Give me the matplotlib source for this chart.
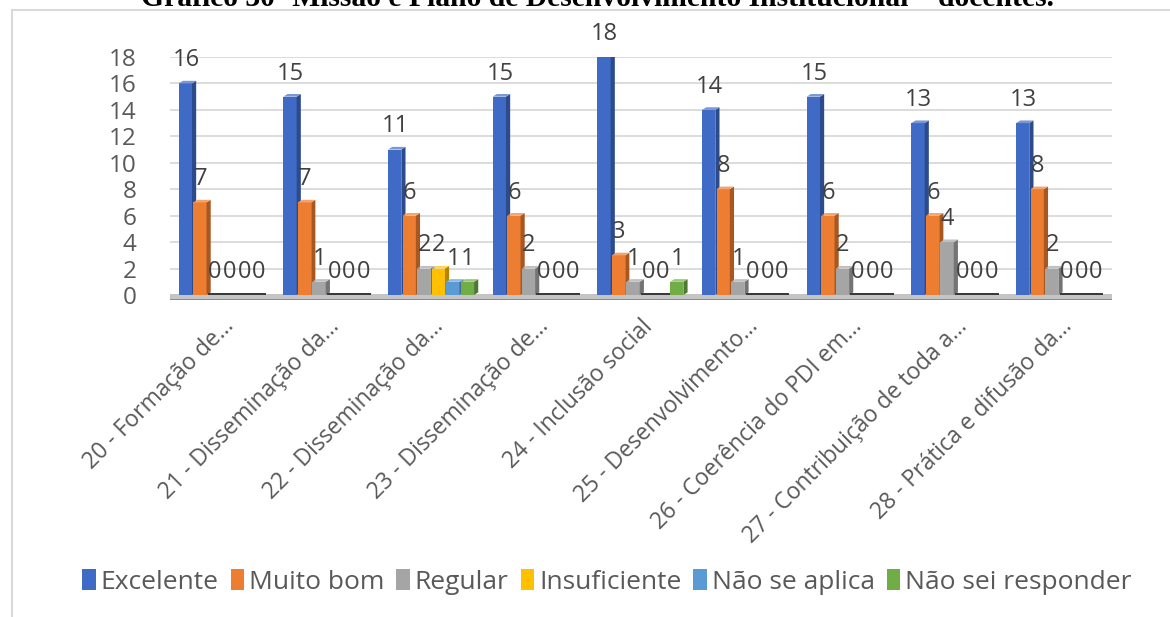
import matplotlib
matplotlib.use("Agg")
import matplotlib.pyplot as plt
from matplotlib.patches import Patch, Rectangle
from matplotlib.colors import to_rgb
import numpy as np

categories = ["20 - Formação de…", "21 - Disseminação da…", "22 - Disseminação da…",
              "23 - Disseminação de…", "24 - Inclusão social", "25 - Desenvolvimento…",
              "26 - Coerência do PDI em…", "27 - Contribuição de toda a…",
              "28 - Prática e difusão da…"]
series_names = ["Excelente", "Muito bom", "Regular", "Insuficiente",
                "Não se aplica", "Não sei responder"]
excelente = [16, 15, 11, 15, 18, 14, 15, 13, 13]
muito_bom = [7, 7, 6, 6, 3, 8, 6, 6, 8]
regular = [0, 1, 2, 2, 1, 1, 2, 4, 2]
insuficiente = [0, 0, 2, 0, 0, 0, 0, 0, 0]
nao_se_aplica = [0, 0, 1, 0, 0, 0, 0, 0, 0]
nao_sei = [0, 0, 1, 0, 1, 0, 0, 0, 0]
series = [excelente, muito_bom, regular, insuficiente, nao_se_aplica, nao_sei]
colors = ["#3F6BC6", "#ED7D31", "#A5A5A5", "#FFC000", "#5B9BD5", "#70AD47"]
yticks = [0, 2, 4, 6, 8, 10, 12, 14, 16, 18]
title = "Gráfico 30- Missão e Plano de Desenvolvimento Institucional – docentes."

FONT = ["Open Sans", "DejaVu Sans"]
TXT = "#595959"

W, H = 1170, 617
fig = plt.figure(figsize=(W / 100, H / 100), dpi=100)
fig.patch.set_facecolor("white")

# outer chart frame (only left and top visible)
fig.add_artist(Rectangle((12 / W, -0.2), 1.2, 1.2 - 10 / H, transform=fig.transFigure,
                         facecolor="none", edgecolor="#D9D9D9", lw=1.5))

# title (cut off at the top in the reference)
fig.text(597 / W, 1 - 6 / H, title, ha="center", va="baseline",
         fontsize=21.3, fontweight="bold", family=["Liberation Serif", "DejaVu Serif"],
         color="#000000")

ax = fig.add_axes([170 / W, 1 - 295 / H, (1112 - 170) / W, (295 - 57) / H])
n = len(categories)
ax.set_xlim(-0.5, n - 0.5)
ax.set_ylim(0, 18)
ax.set_yticks(yticks)
ax.yaxis.grid(True, color="#D9D9D9", lw=1.3)
ax.set_axisbelow(True)
for s in ax.spines.values():
    s.set_visible(False)
ax.tick_params(axis="both", length=0)
ax.tick_params(axis="y", pad=24, labelsize=17.5, labelcolor=TXT)
for lab in ax.get_yticklabels():
    lab.set_family(FONT)

x = np.arange(n)
ax.set_xticks(x)
ax.set_xticklabels(categories, rotation=45, ha="right", va="top",
                   rotation_mode="anchor", fontsize=16.5, color=TXT, family=FONT)
ax.tick_params(axis="x", pad=14)

# floor
ax.add_patch(Rectangle((-0.5, -0.3), n, 0.35, facecolor="#C4C4C4", edgecolor="none",
                       zorder=1, clip_on=False))
ax.add_patch(Rectangle((-0.5, -0.4), n, 0.1, facecolor="#8C8C8C", edgecolor="none",
                       zorder=1, clip_on=False))

bw = 0.139
group = bw * len(series)
depth = 0.04
dy = 0.2


def shade(c, f):
    r, g, b = to_rgb(c)
    return (r * f, g * f, b * f)


def light(c, f):
    r, g, b = to_rgb(c)
    return (r + (1 - r) * f, g + (1 - g) * f, b + (1 - b) * f)


for j, (vals, col) in enumerate(zip(series, colors)):
    xs = x - group / 2 + j * bw
    for k, (x0, v) in enumerate(zip(xs, vals)):
        z = 2 + j
        fw = bw - depth * 0.3
        if v > 0:
            ax.bar(x0, v, width=fw, align="edge", color=col, zorder=z, bottom=0)
            # right side face
            ax.fill([x0 + fw, x0 + fw + depth, x0 + fw + depth, x0 + fw],
                    [0, dy, v + dy, v], color=shade(col, 0.7), zorder=z, lw=0)
            # top face
            ax.fill([x0, x0 + fw, x0 + fw + depth, x0 + depth],
                    [v, v, v + dy, v + dy], color=light(col, 0.3), zorder=z, lw=0)
        else:
            ax.bar(x0, 0.18, width=bw, align="edge", color="#3A3A3A", zorder=z,
                   bottom=-0.05)
        ax.annotate(str(v), (x0 + bw / 2, v), xytext=(0, 8), textcoords="offset points",
                    ha="center", va="bottom", fontsize=17, color="#404040",
                    family=FONT, zorder=20, annotation_clip=False)

handles = [Patch(facecolor=c, edgecolor="none") for c in colors]
leg = fig.legend(handles, series_names, loc="center", bbox_to_anchor=(607 / W, 1 - 582 / H),
                 ncol=6, frameon=False, handlelength=0.5, handleheight=0.8,
                 handletextpad=0.2, columnspacing=0.45,
                 prop={"family": FONT, "size": 19})
for t in leg.get_texts():
    t.set_color(TXT)

fig.savefig("out.png", dpi=100, facecolor="white")
